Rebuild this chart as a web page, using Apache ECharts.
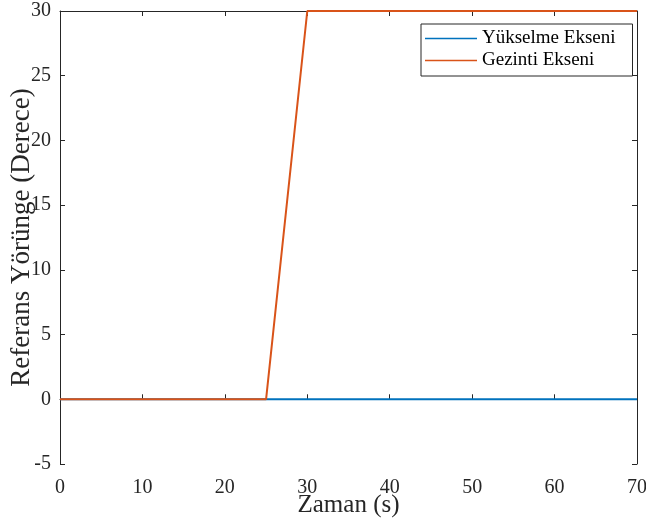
<!DOCTYPE html>
<html>
<head>
<meta charset="utf-8">
<script src="https://cdn.jsdelivr.net/npm/echarts@6/dist/echarts.min.js"></script>
<style>
  html, body { margin: 0; padding: 0; background: #fff; }
  #chart { width: 646px; height: 530px; }
</style>
</head>
<body>
<div id="chart"></div>
<script>
// time (s) and reference trajectory (degrees)
var yukselme_x = [0, 70];
var yukselme_y = [0, 0];
var gezinti_x = [0, 25, 30, 70];
var gezinti_y = [0, 0, 30, 30];
var seriesNames = ['Yükselme Ekseni', 'Gezinti Ekseni'];
var xTicks = [0, 10, 20, 30, 40, 50, 60, 70];
var yTicks = [-5, 0, 5, 10, 15, 20, 25, 30];

function pairs(xs, ys) {
    var out = [];
    for (var i = 0; i < xs.length; i++) {
        out.push([xs[i], ys[i]]);
    }
    return out;
}

var font = 'Liberation Serif';
var axisColor = '#262626';

var myChart = echarts.init(document.getElementById('chart'));

var option = {
    animation: false,
    backgroundColor: '#fff',
    textStyle: { fontFamily: font },
    grid: {
        left: 60, right: 9, top: 11, bottom: 66,
        outerBoundsMode: 'none',
        containLabel: false,
        show: false
    },
    legend: {
        data: seriesNames,
        orient: 'vertical',
        left: 421, top: 24,
        padding: [5, 17, 6, 4],
        itemGap: 3,
        itemWidth: 52,
        itemHeight: 1.5,
        icon: 'rect',
        borderColor: axisColor,
        borderWidth: 1,
        backgroundColor: '#fff',
        textStyle: { fontFamily: font, fontSize: 19, color: '#000' }
    },
    xAxis: [{
        type: 'value',
        min: xTicks[0], max: xTicks[xTicks.length - 1], interval: 10,
        name: 'Zaman (s)',
        nameLocation: 'middle',
        nameGap: 29,
        nameMoveOverlap: false,
        nameTextStyle: { fontFamily: font, fontSize: 25, color: '#262626' },
        axisLine: { show: true, lineStyle: { color: axisColor, width: 1 } },
        axisTick: { show: true, inside: true, length: 5, lineStyle: { color: axisColor } },
        axisLabel: { fontFamily: font, fontSize: 20, color: '#262626', margin: 14 },
        splitLine: { show: false }
    }, {
        type: 'value', position: 'top',
        min: xTicks[0], max: xTicks[xTicks.length - 1], interval: 10,
        axisLine: { show: true, onZero: false, lineStyle: { color: axisColor, width: 1 } },
        axisTick: { show: true, inside: true, length: 5, lineStyle: { color: axisColor } },
        axisLabel: { show: false },
        splitLine: { show: false }
    }],
    yAxis: [{
        type: 'value',
        min: yTicks[0], max: yTicks[yTicks.length - 1], interval: 5,
        name: 'Referans Yörünge (Derece)',
        nameLocation: 'middle',
        nameGap: 25,
        nameMoveOverlap: false,
        nameTextStyle: { fontFamily: font, fontSize: 27, color: '#262626' },
        axisLine: { show: true, onZero: false, lineStyle: { color: axisColor, width: 1 } },
        axisTick: { show: true, inside: true, length: 5, lineStyle: { color: axisColor } },
        axisLabel: { fontFamily: font, fontSize: 20, color: '#262626', margin: 9 },
        splitLine: { show: false }
    }, {
        type: 'value', position: 'right',
        min: yTicks[0], max: yTicks[yTicks.length - 1], interval: 5,
        axisLine: { show: true, onZero: false, lineStyle: { color: axisColor, width: 1 } },
        axisTick: { show: true, inside: true, length: 5, lineStyle: { color: axisColor } },
        axisLabel: { show: false },
        splitLine: { show: false }
    }],
    series: [{
        name: seriesNames[0],
        type: 'line',
        data: pairs(yukselme_x, yukselme_y),
        showSymbol: false,
        color: '#0072BD',
        lineStyle: { width: 2 }
    }, {
        name: seriesNames[1],
        type: 'line',
        data: pairs(gezinti_x, gezinti_y),
        showSymbol: false,
        color: '#D95319',
        lineStyle: { width: 2 }
    }]
};

myChart.setOption(option);
</script>
</body>
</html>
